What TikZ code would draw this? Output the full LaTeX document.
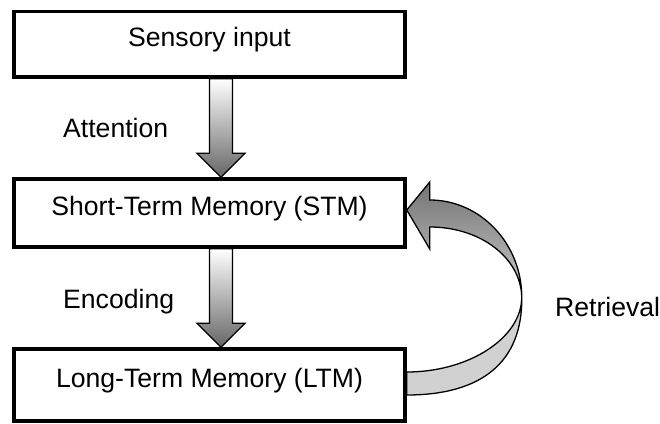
\documentclass[tikz,border=0pt]{standalone}
\usepackage{fontspec}
\setmainfont{Liberation Sans}
\usetikzlibrary{calc}
\tikzset{
  box/.style={draw, line width=3.5pt, minimum width=391pt, inner sep=0pt,
    text height=19pt, text depth=14pt, font=\fontsize{26.6}{32}\selectfont},
  lbl/.style={inner sep=0pt, anchor=base west, font=\fontsize{26.6}{32}\selectfont},
  blockarrow/.style={line width=1.3pt, line join=miter, top color=white, bottom color=black!60},
  turnarrow/.style={line width=1.3pt, line join=miter, top color=black!55, bottom color=black!20},
  turnback/.style={line width=1.3pt, fill=black!18},
}

\begin{document}
\begin{tikzpicture}[x=1pt, y=-1pt]
\useasboundingbox (0,0) rectangle (660,423);
%%%%% Boxes %%%%%
\node[box, minimum height=65.5pt] (sens) at (209.5,44.25) {Sensory input};
\node[box, minimum height=68pt] (stm) at (209.5,213) {Short-Term Memory (STM)};
\node[box, minimum height=72pt] (ltm) at (209.5,385) {Long-Term Memory (LTM)};
%%%%% Labels %%%%%
\node[lbl] (attn) at (63,137) {Attention};
\node[lbl] (enc) at (63,308) {Encoding};
\node[lbl] (retr) at (555,316) {Retrieval};
%%%%% Straight arrows %%%%%
\coordinate (a1) at ([xshift=11.5pt]sens.south);
\coordinate (t1) at ([xshift=11.5pt]stm.north);
\coordinate (a2) at ([xshift=11.5pt]stm.south);
\coordinate (t2) at ([xshift=11.5pt]ltm.north);
\shadedraw[blockarrow] ($(a1)+(-11.5,0)$) -- ($(t1)+(-11.5,-24)$) -- ($(t1)+(-24,-24)$) -- (t1)
  -- ($(t1)+(24,-24)$) -- ($(t1)+(11.5,-24)$) -- ($(a1)+(11.5,0)$) -- cycle;
\shadedraw[blockarrow] ($(a2)+(-11.5,0)$) -- ($(t2)+(-11.5,-24)$) -- ($(t2)+(-24,-24)$) -- (t2)
  -- ($(t2)+(24,-24)$) -- ($(t2)+(11.5,-24)$) -- ($(a2)+(11.5,0)$) -- cycle;
%%%%% Curved arrow %%%%%
\coordinate (rtip) at ([yshift=3pt]stm.east);
\coordinate (rbase) at (ltm.east);
\begin{scope}[shift={(rbase)}]
\filldraw[turnback] (115,-88) .. controls (115,-47) and (62,-13) .. (0,-13) -- (0,10)
  .. controls (75,10) and (116,-23) .. (115,-88) -- cycle;
\end{scope}
\begin{scope}[shift={(rtip)}]
\shadedraw[turnarrow] (23,-10) .. controls (74,-10) and (115,34) .. (115,87)
  .. controls (114,48) and (74,17) .. (23,17) -- (23,39) -- (0,0) -- (23,-28) -- cycle;
\end{scope}
\end{tikzpicture}
\end{document}
